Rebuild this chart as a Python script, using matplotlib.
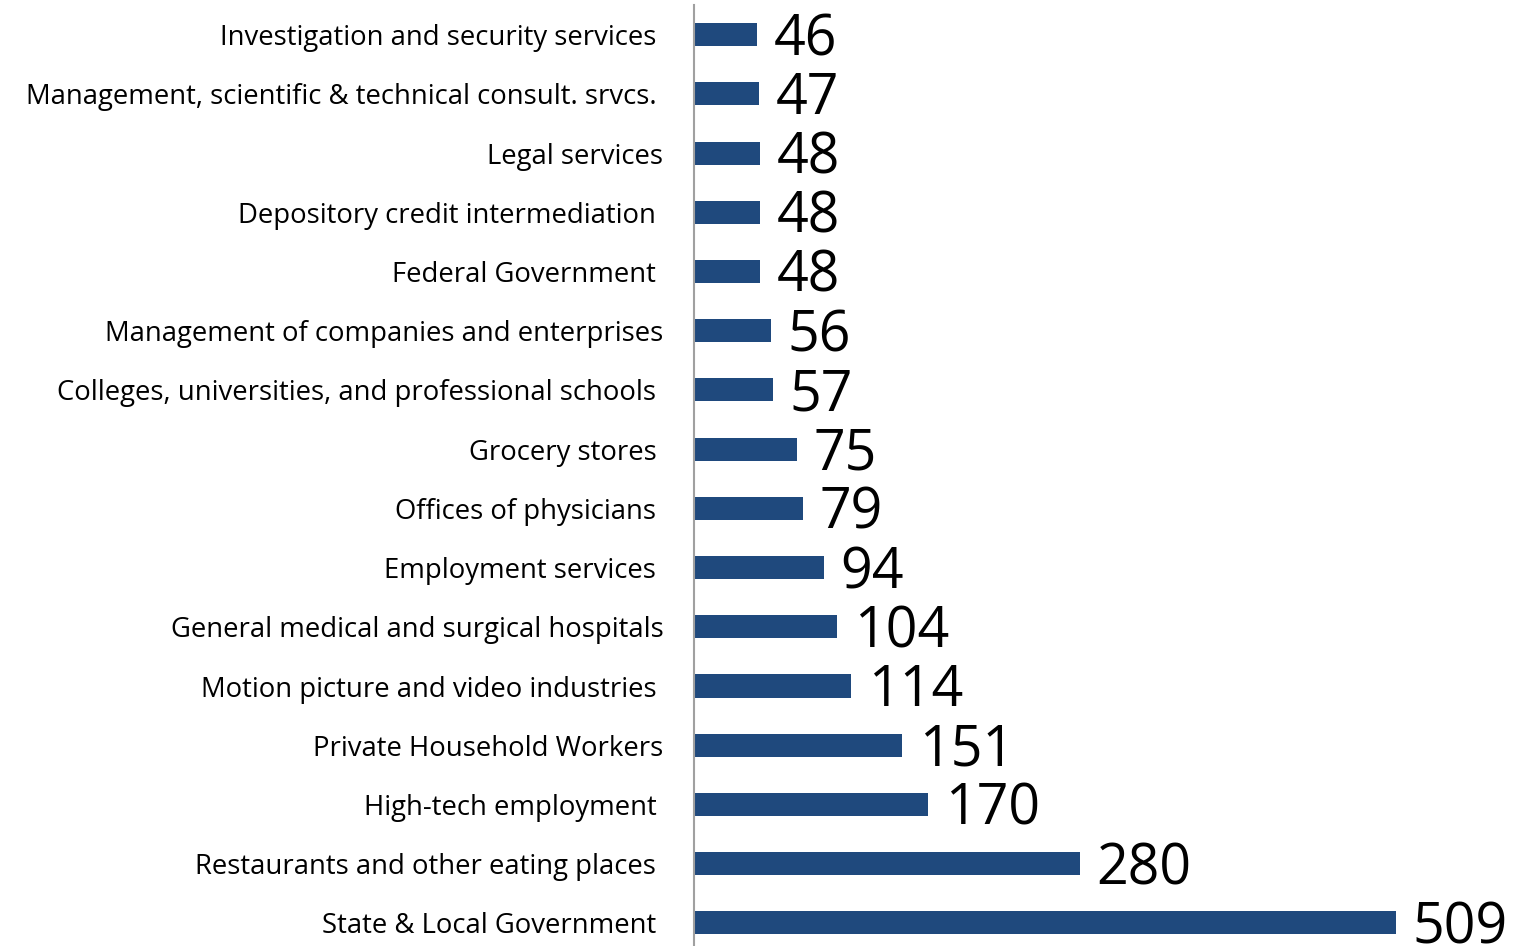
'''
  Horizontal bar chart of counts by industry.
'''

import matplotlib.pyplot as plt

# bottom to top
industries = [
    "State & Local Government ",
    "Restaurants and other eating places ",
    "High-tech employment ",
    "Private Household Workers",
    "Motion picture and video industries ",
    "General medical and surgical hospitals",
    "Employment services ",
    "Offices of physicians ",
    "Grocery stores ",
    "Colleges, universities, and professional schools ",
    "Management of companies and enterprises",
    "Federal Government ",
    "Depository credit intermediation ",
    "Legal services",
    "Management, scientific & technical consult. srvcs. ",
    "Investigation and security services ",
]
counts = [509, 280, 170, 151, 114, 104, 94, 79, 75, 57, 56, 48, 48, 48, 47, 46]

plt.rcParams['font.family'] = ['Open Sans', 'DejaVu Sans']

fig = plt.figure(figsize=(15.23, 9.46), dpi=100)
ax = fig.add_axes([694/1523, 0, 1 - 694/1523, 941/946])

pos = range(len(counts))
ax.barh(pos, counts, height=0.39, color='#1f497d')
for y, v in zip(pos, counts):
    ax.text(v + 12, y - 0.1, str(v), va='center', ha='left', fontsize=40)

ax.set_yticks(list(pos))
ax.set_yticklabels(industries, fontsize=19.8)
ax.tick_params(axis='y', length=0, pad=22)
ax.set_xticks([])
ax.set_xlim(0, 509 * (1523 - 694) / 702)
ax.set_ylim(-0.39, 15.5)
for s in ['top', 'right', 'bottom']:
    ax.spines[s].set_visible(False)
ax.spines['left'].set_color('#a0a0a0')
ax.spines['left'].set_linewidth(1.5)

fig.savefig("out.png", dpi=100, facecolor='w')
